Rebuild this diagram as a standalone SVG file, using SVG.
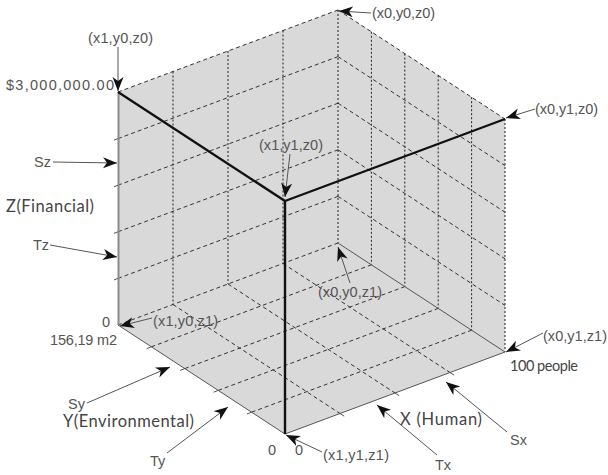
<svg xmlns="http://www.w3.org/2000/svg" width="608" height="475" viewBox="0 0 608 475">
  <style>
    .lbl { font-family: "Liberation Sans", Arial, sans-serif; font-size: 14.5px; fill: #555; }
    .ax { font-family: Lato, "Open Sans", sans-serif; font-size: 16.5px; fill: #444; }
    .sm { font-family: Lato, "Open Sans", sans-serif; font-size: 14.5px; fill: #444; }
    .dot { stroke: #222; stroke-width: 1; stroke-dasharray: 2 2; fill: none; }
    .dash { stroke: #333; stroke-width: 1; stroke-dasharray: 4 3; fill: none; }
    .thick { stroke: #111; stroke-width: 2.4; fill: none; }
    .thin { stroke: #555; stroke-width: 1; fill: none; }
    .tick { stroke: #555; stroke-width: 1; }
    .arr { stroke: #555; stroke-width: 1; fill: none; marker-end: url(#head); }
  </style>
  <defs>
    <marker id="head" markerUnits="userSpaceOnUse" markerWidth="16" markerHeight="12" refX="14" refY="5.5" orient="auto">
      <path d="M0,0 L14,5.5 L0,11 L4,5.5 Z" fill="#111"/>
    </marker>
  </defs>
  <rect width="608" height="475" fill="#fff"/>

  <g id="cube">
    <polygon points="118,92 338,10 505,119 505,352 285,434 118,325" fill="#d9d9d9"/>
    <g id="grid-left">
      <line class="dot" x1="173" y1="71.5" x2="173" y2="304.5"/>
      <line class="dot" x1="228" y1="51" x2="228" y2="284"/>
      <line class="dot" x1="283" y1="30.5" x2="283" y2="263.5"/>
      <line class="dot" x1="338" y1="10" x2="338" y2="243"/>
      <line class="dash" x1="118" y1="92" x2="338" y2="10"/>
      <line class="dash" x1="118" y1="138.6" x2="338" y2="56.6"/>
      <line class="dash" x1="118" y1="185.2" x2="338" y2="103.2"/>
      <line class="dash" x1="118" y1="231.8" x2="338" y2="149.8"/>
      <line class="dash" x1="118" y1="278.4" x2="338" y2="196.4"/>
      <line class="dash" x1="118" y1="325" x2="338" y2="243"/>
    </g>
    <g id="grid-right">
      <line class="dot" x1="371.4" y1="31.8" x2="371.4" y2="264.8"/>
      <line class="dot" x1="404.8" y1="53.6" x2="404.8" y2="286.6"/>
      <line class="dot" x1="438.2" y1="75.4" x2="438.2" y2="308.4"/>
      <line class="dot" x1="471.6" y1="97.2" x2="471.6" y2="330.2"/>
      <line class="dot" x1="505" y1="119" x2="505" y2="352"/>
      <line class="dash" x1="338" y1="10" x2="505" y2="119"/>
      <line class="dash" x1="338" y1="56.6" x2="505" y2="165.6"/>
      <line class="dash" x1="338" y1="103.2" x2="505" y2="212.2"/>
      <line class="dash" x1="338" y1="149.8" x2="505" y2="258.8"/>
      <line class="dash" x1="338" y1="196.4" x2="505" y2="305.4"/>
    </g>
    <g id="grid-bottom">
      <line class="dash" x1="151.4" y1="346.8" x2="371.4" y2="264.8"/>
      <line class="dash" x1="184.8" y1="368.6" x2="404.8" y2="286.6"/>
      <line class="dash" x1="218.2" y1="390.4" x2="438.2" y2="308.4"/>
      <line class="dash" x1="251.6" y1="412.2" x2="471.6" y2="330.2"/>
      <line class="dash" x1="173" y1="304.5" x2="340" y2="413.5"/>
      <line class="dash" x1="228" y1="284" x2="395" y2="393"/>
      <line class="dash" x1="283" y1="263.5" x2="450" y2="372.5"/>
    </g>
    <line x1="118.5" y1="92" x2="118.5" y2="325" stroke="#8a8a8a" stroke-width="2"/>
    <line class="thin" x1="118" y1="325" x2="285" y2="434"/>
    <line class="thin" x1="285" y1="434" x2="505" y2="352"/>
    <line class="thin" x1="338" y1="243" x2="505" y2="352" stroke="#333"/>
    <g id="ticks">
      <line class="tick" x1="118" y1="138.6" x2="114" y2="140.1"/>
      <line class="tick" x1="118" y1="185.2" x2="114" y2="186.7"/>
      <line class="tick" x1="118" y1="231.8" x2="114" y2="233.3"/>
      <line class="tick" x1="118" y1="278.4" x2="114" y2="279.9"/>
      <line class="tick" x1="151.4" y1="346.8" x2="146.7" y2="348.6"/>
      <line class="tick" x1="184.8" y1="368.6" x2="180.1" y2="370.4"/>
      <line class="tick" x1="218.2" y1="390.4" x2="213.5" y2="392.2"/>
      <line class="tick" x1="251.6" y1="412.2" x2="246.9" y2="414"/>
      <line class="tick" x1="340" y1="413.5" x2="344.2" y2="416.2"/>
      <line class="tick" x1="395" y1="393" x2="399.2" y2="395.7"/>
      <line class="tick" x1="450" y1="372.5" x2="454.2" y2="375.2"/>
    </g>
    <line class="thick" x1="118" y1="92" x2="285" y2="201"/>
    <line class="thick" x1="285" y1="201" x2="505" y2="119"/>
    <line class="thick" x1="285" y1="201" x2="285" y2="434"/>
  </g>

  <g id="connectors">
    <line class="arr" x1="118" y1="47" x2="118" y2="91"/>
    <line class="arr" x1="371" y1="13" x2="339" y2="11"/>
    <line class="arr" x1="535" y1="109" x2="506" y2="118"/>
    <line class="arr" x1="290" y1="154" x2="285" y2="197"/>
    <line class="arr" x1="53" y1="162" x2="117" y2="163"/>
    <line class="arr" x1="50" y1="245" x2="117" y2="257"/>
    <line class="arr" x1="152" y1="318" x2="120" y2="326"/>
    <line class="arr" x1="350" y1="283" x2="338" y2="247"/>
    <line class="arr" x1="543" y1="333" x2="506" y2="352"/>
    <line class="arr" x1="507" y1="432" x2="446" y2="382"/>
    <line class="arr" x1="437" y1="455" x2="377" y2="405"/>
    <line class="arr" x1="322" y1="452" x2="286" y2="435"/>
    <line class="arr" x1="87" y1="403" x2="170" y2="367"/>
    <line class="arr" x1="167" y1="453" x2="228" y2="407"/>
  </g>

  <g id="labels">
    <g id="n-x1y0z0"><text class="lbl" x="88" y="43" textLength="65">(x1,y0,z0)</text></g>
    <g id="n-max-z"><text class="lbl" x="6" y="90" textLength="108" font-size="15">$3,000,000.00</text></g>
    <g id="n-x0y0z0"><text class="lbl" x="372" y="18" textLength="63">(x0,y0,z0)</text></g>
    <g id="n-x0y1z0"><text class="lbl" x="535" y="114" textLength="63">(x0,y1,z0)</text></g>
    <g id="n-x1y1z0"><text class="lbl" x="259" y="150" textLength="64">(x1,y1,z0)</text></g>
    <g id="n-sz"><text class="lbl" x="34" y="167" font-size="15">Sz</text></g>
    <g id="n-zaxis"><text class="ax" x="6" y="212" textLength="88">Z(Financial)</text></g>
    <g id="n-tz"><text class="lbl" x="33" y="250" font-size="15">Tz</text></g>
    <g id="n-zero-z"><text class="lbl" x="102" y="327">0</text></g>
    <g id="n-min-y"><text class="lbl" x="50" y="345" textLength="67" font-family="Liberation Serif, serif">156,19 m2</text></g>
    <g id="n-x1y0z1"><text class="lbl" x="153" y="326" textLength="65">(x1,y0,z1)</text></g>
    <g id="n-x0y0z1"><text class="lbl" x="318" y="297" textLength="64">(x0,y0,z1)</text></g>
    <g id="n-x0y1z1"><text class="lbl" x="543" y="341" textLength="64">(x0,y1,z1)</text></g>
    <g id="n-max-x"><text class="sm" x="510" y="371" textLength="68">100 people</text></g>
    <g id="n-xaxis"><text class="ax" x="400" y="425" textLength="82">X (Human)</text></g>
    <g id="n-sx"><text class="lbl" x="510" y="445" font-size="15">Sx</text></g>
    <g id="n-tx"><text class="lbl" x="435" y="470" font-size="15">Tx</text></g>
    <g id="n-x1y1z1"><text class="lbl" x="323" y="460" textLength="66">(x1,y1,z1)</text></g>
    <g id="n-zero-y"><text class="lbl" x="268" y="455">0</text></g>
    <g id="n-zero-x"><text class="lbl" x="295" y="455">0</text></g>
    <g id="n-sy"><text class="lbl" x="68" y="409" font-size="15">Sy</text></g>
    <g id="n-yaxis"><text class="ax" x="63" y="427" textLength="131">Y(Environmental)</text></g>
    <g id="n-ty"><text class="lbl" x="150" y="466" font-size="15">Ty</text></g>
  </g>
</svg>
